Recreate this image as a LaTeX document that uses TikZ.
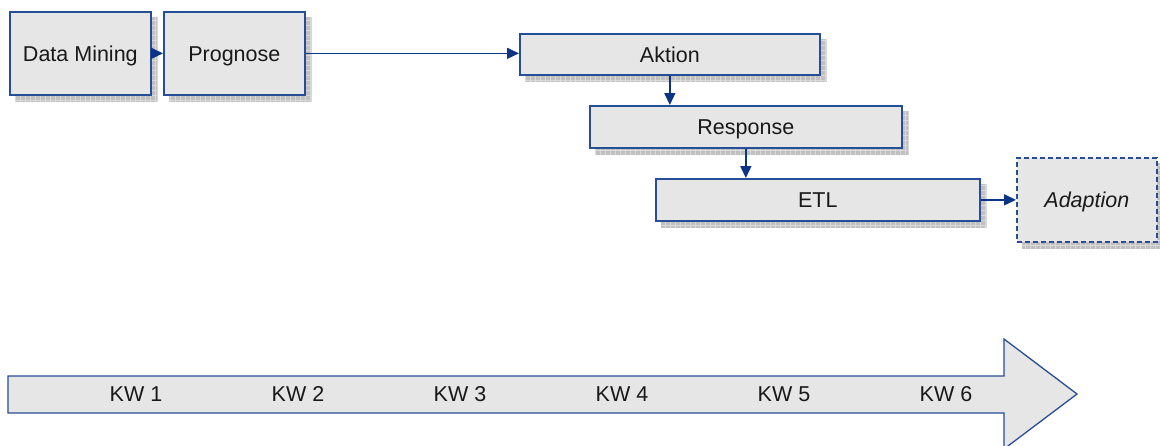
\documentclass[tikz,border=0pt]{standalone}
\usepackage{fontspec}
\setmainfont{Liberation Sans}
\usetikzlibrary{arrows.meta,backgrounds}

\definecolor{boxfill}{RGB}{230,230,230}
\definecolor{boxline}{RGB}{38,78,150}
\definecolor{linkline}{RGB}{12,52,132}
\definecolor{shadowfill}{RGB}{192,192,192}
\definecolor{shadowgrid}{RGB}{218,218,218}

\tikzset{
  every node/.style={font=\fontsize{21.5}{25}\selectfont},
  stagebox/.style={rectangle, draw=boxline, line width=1.7pt, fill=boxfill,
    anchor=north west, inner sep=0pt, text=black!90,
    text height=15.4pt, text depth=0pt},
  openbox/.style={stagebox, dashed, dash pattern=on 5pt off 3pt},
  link/.style={draw=linkline, line width=1.5pt,
    -{Triangle[length=12pt,width=11pt]}},
  weeklabel/.style={text=black!90, inner sep=0pt, text height=15.4pt, text depth=0pt},
}

% hatched drop shadow behind a node
\newcommand{\boxshadow}[1]{%
  \begin{scope}[on background layer]
    \begin{scope}
      \clip ([shift={(6,6)}]#1.south west) rectangle ([shift={(6,6)}]#1.north east);
      \fill[shadowfill] ([shift={(6,6)}]#1.south west) rectangle ([shift={(6,6)}]#1.north east);
      \draw[shadowgrid, line width=0.6pt, step=5pt]
        ([shift={(6,6)}]#1.south west) grid ([shift={(6,6)}]#1.north east);
    \end{scope}
  \end{scope}}

\begin{document}
\begin{tikzpicture}[x=1pt, y=-1pt]
  \useasboundingbox (0,0) rectangle (1160,445);
  \clip (0,0) rectangle (1160,445);

  % process stages
  \node[stagebox, minimum width=141pt, minimum height=83pt] (dm) at (9,11) {Data Mining};
  \node[stagebox, minimum width=141pt, minimum height=83pt] (pg) at (163,11) {Prognose};
  \node[stagebox, minimum width=300pt, minimum height=41pt] (ak) at (519,33) {Aktion};
  \node[stagebox, minimum width=312pt, minimum height=42pt] (rs) at (589,105) {Response};
  \node[stagebox, minimum width=324pt, minimum height=42pt] (etl) at (655,178) {ETL};
  \node[openbox, minimum width=140pt, minimum height=84pt] (ad) at (1016,157) {\itshape Adaption};

  \boxshadow{dm}
  \boxshadow{pg}
  \boxshadow{ak}
  \boxshadow{rs}
  \boxshadow{etl}
  \boxshadow{ad}

  % connectors
  \draw[link] (dm.east) -- (pg.west);
  \draw[link] (pg.east) -- (pg.east -| ak.west);
  \draw[link] (ak.south) -- (ak.south |- rs.north);
  \draw[link] (rs.south) -- (rs.south |- etl.north);
  \draw[link] (etl.east) -- (ad.west);

  % time line
  \draw[draw=boxline, line width=1.3pt, fill=boxfill, line join=miter]
    (8,376) -- (1004,376) -- (1004,339) -- (1077,394) -- (1004,449)
    -- (1004,413) -- (8,413) -- cycle;
  \node[weeklabel] (kw1) at (136,394) {KW 1};
  \node[weeklabel] (kw2) at (298,394) {KW 2};
  \node[weeklabel] (kw3) at (460,394) {KW 3};
  \node[weeklabel] (kw4) at (622,394) {KW 4};
  \node[weeklabel] (kw5) at (784,394) {KW 5};
  \node[weeklabel] (kw6) at (946,394) {KW 6};
\end{tikzpicture}
\end{document}
